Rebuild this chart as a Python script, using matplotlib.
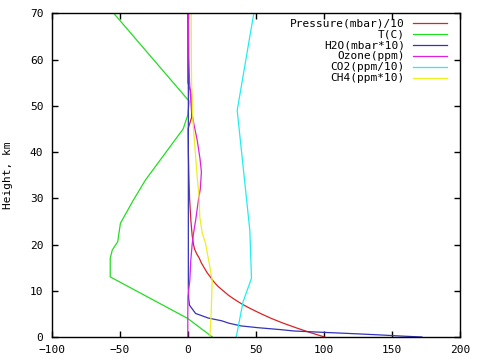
import matplotlib
matplotlib.use('Agg')
import matplotlib.pyplot as plt

plt.rcParams['font.family'] = ['DejaVu Sans Mono']
plt.rcParams['font.size'] = 8

# values, x value vs height (km)
pressure_h = [0, 1, 2, 3, 4, 5, 6, 7, 8, 9, 10, 11, 12, 13, 14, 15, 16, 17, 18, 19, 20,
              22, 25, 30, 35, 40, 45, 47.5, 52.5, 55, 60, 70]
pressure = [100.5, 89.5, 79.5, 70.0, 61.5, 54.0, 47.0, 40.5, 35.0, 30.0, 26.0, 22.0, 19.0,
            16.5, 14.0, 12.0, 10.0, 8.5, 6.5, 5.0, 4.2, 3.2, 2.3, 1.3, 0.8, 0.4, 0.2,
            2.8, 2.8, 0.1, 0.05, 0.02]

temp_h = [0, 4, 13, 17, 18.8, 20.6, 24.6, 29.6, 34, 45, 48, 51, 70]
temp = [18, 0, -57, -57, -55.5, -51.5, -49.5, -40, -31, -3.4, 0, 1, -54.4]

h2o_h = [0, 0.2, 0.45, 0.65, 1.0, 1.3, 1.6, 2.0, 2.4, 3.0, 3.5, 4.1, 5.1, 6.9, 8.5,
         10.6, 70]
h2o = [172, 157, 141, 127, 100, 78, 68, 52, 39, 30, 25, 15, 5.7, 1.2, 0.6, 0.4, 0.4]

ozone_h = [0, 5, 8.7, 12.3, 16.6, 20, 22.4, 25.3, 29.6, 32, 35.7, 38.5, 42.6, 46, 49,
           55, 60, 70]
ozone = [0.0, 0.0, 0.1, 1.5, 2.2, 3.2, 4.2, 5.8, 7.8, 9.2, 10, 9.0, 6.9, 4.5, 2.7,
         1.3, 0.8, 0.4]

co2_h = [0, 7.6, 12.7, 23, 49, 70]
co2 = [35.6, 40.6, 46.8, 45.6, 36.3, 48.5]

ch4_h = [0, 5.2, 12.3, 15.2, 20.3, 22.5, 26, 30, 34, 40, 47, 55, 60, 70]
ch4 = [16.2, 17.2, 17.9, 16.2, 13.0, 10.6, 8.8, 8.4, 7.1, 5.5, 3.7, 2.8, 2.6, 2.5]

labels = ['Pressure(mbar)/10', 'T(C)', 'H2O(mbar*10)', 'Ozone(ppm)', 'CO2(ppm/10)',
          'CH4(ppm*10)']
colors = ['#dd2222', '#22dd22', '#3333bb', '#dd22dd', '#22eeee', '#eeee22']


def main():
    fig = plt.figure(figsize=(4.8, 3.6), dpi=100)
    ax = fig.add_axes([0.1077, 0.0639, 0.8506, 0.8991])

    series = [(pressure, pressure_h), (temp, temp_h), (h2o, h2o_h),
              (ozone, ozone_h), (co2, co2_h), (ch4, ch4_h)]
    for (x, h), c in zip(series, colors):
        ax.plot(x, h, color=c, lw=0.9)

    ax.set_xlim(-100, 200)
    ax.set_ylim(0, 70)
    ax.set_xticks([-100, -50, 0, 50, 100, 150, 200])
    ax.set_yticks([0, 10, 20, 30, 40, 50, 60, 70])
    ax.tick_params(direction='in', length=4.5, width=1, top=True, right=True,
                   colors='black')
    ax.tick_params(axis='x', pad=5.5)
    ax.tick_params(axis='y', pad=6)
    for s in ax.spines.values():
        s.set_linewidth(1)
    ax.set_ylabel('Height, km', labelpad=12)

    # gnuplot style key: right aligned text, sample line after it
    for i, (lab, c) in enumerate(zip(labels, colors)):
        y = 0.969 - i * 0.034
        ax.text(0.865, y, lab, transform=ax.transAxes, ha='right', va='center')
        ax.plot([0.886, 0.967], [y, y], transform=ax.transAxes, color=c, lw=0.9)

    fig.savefig('out.png', dpi=100)


if __name__ == '__main__':
    main()
